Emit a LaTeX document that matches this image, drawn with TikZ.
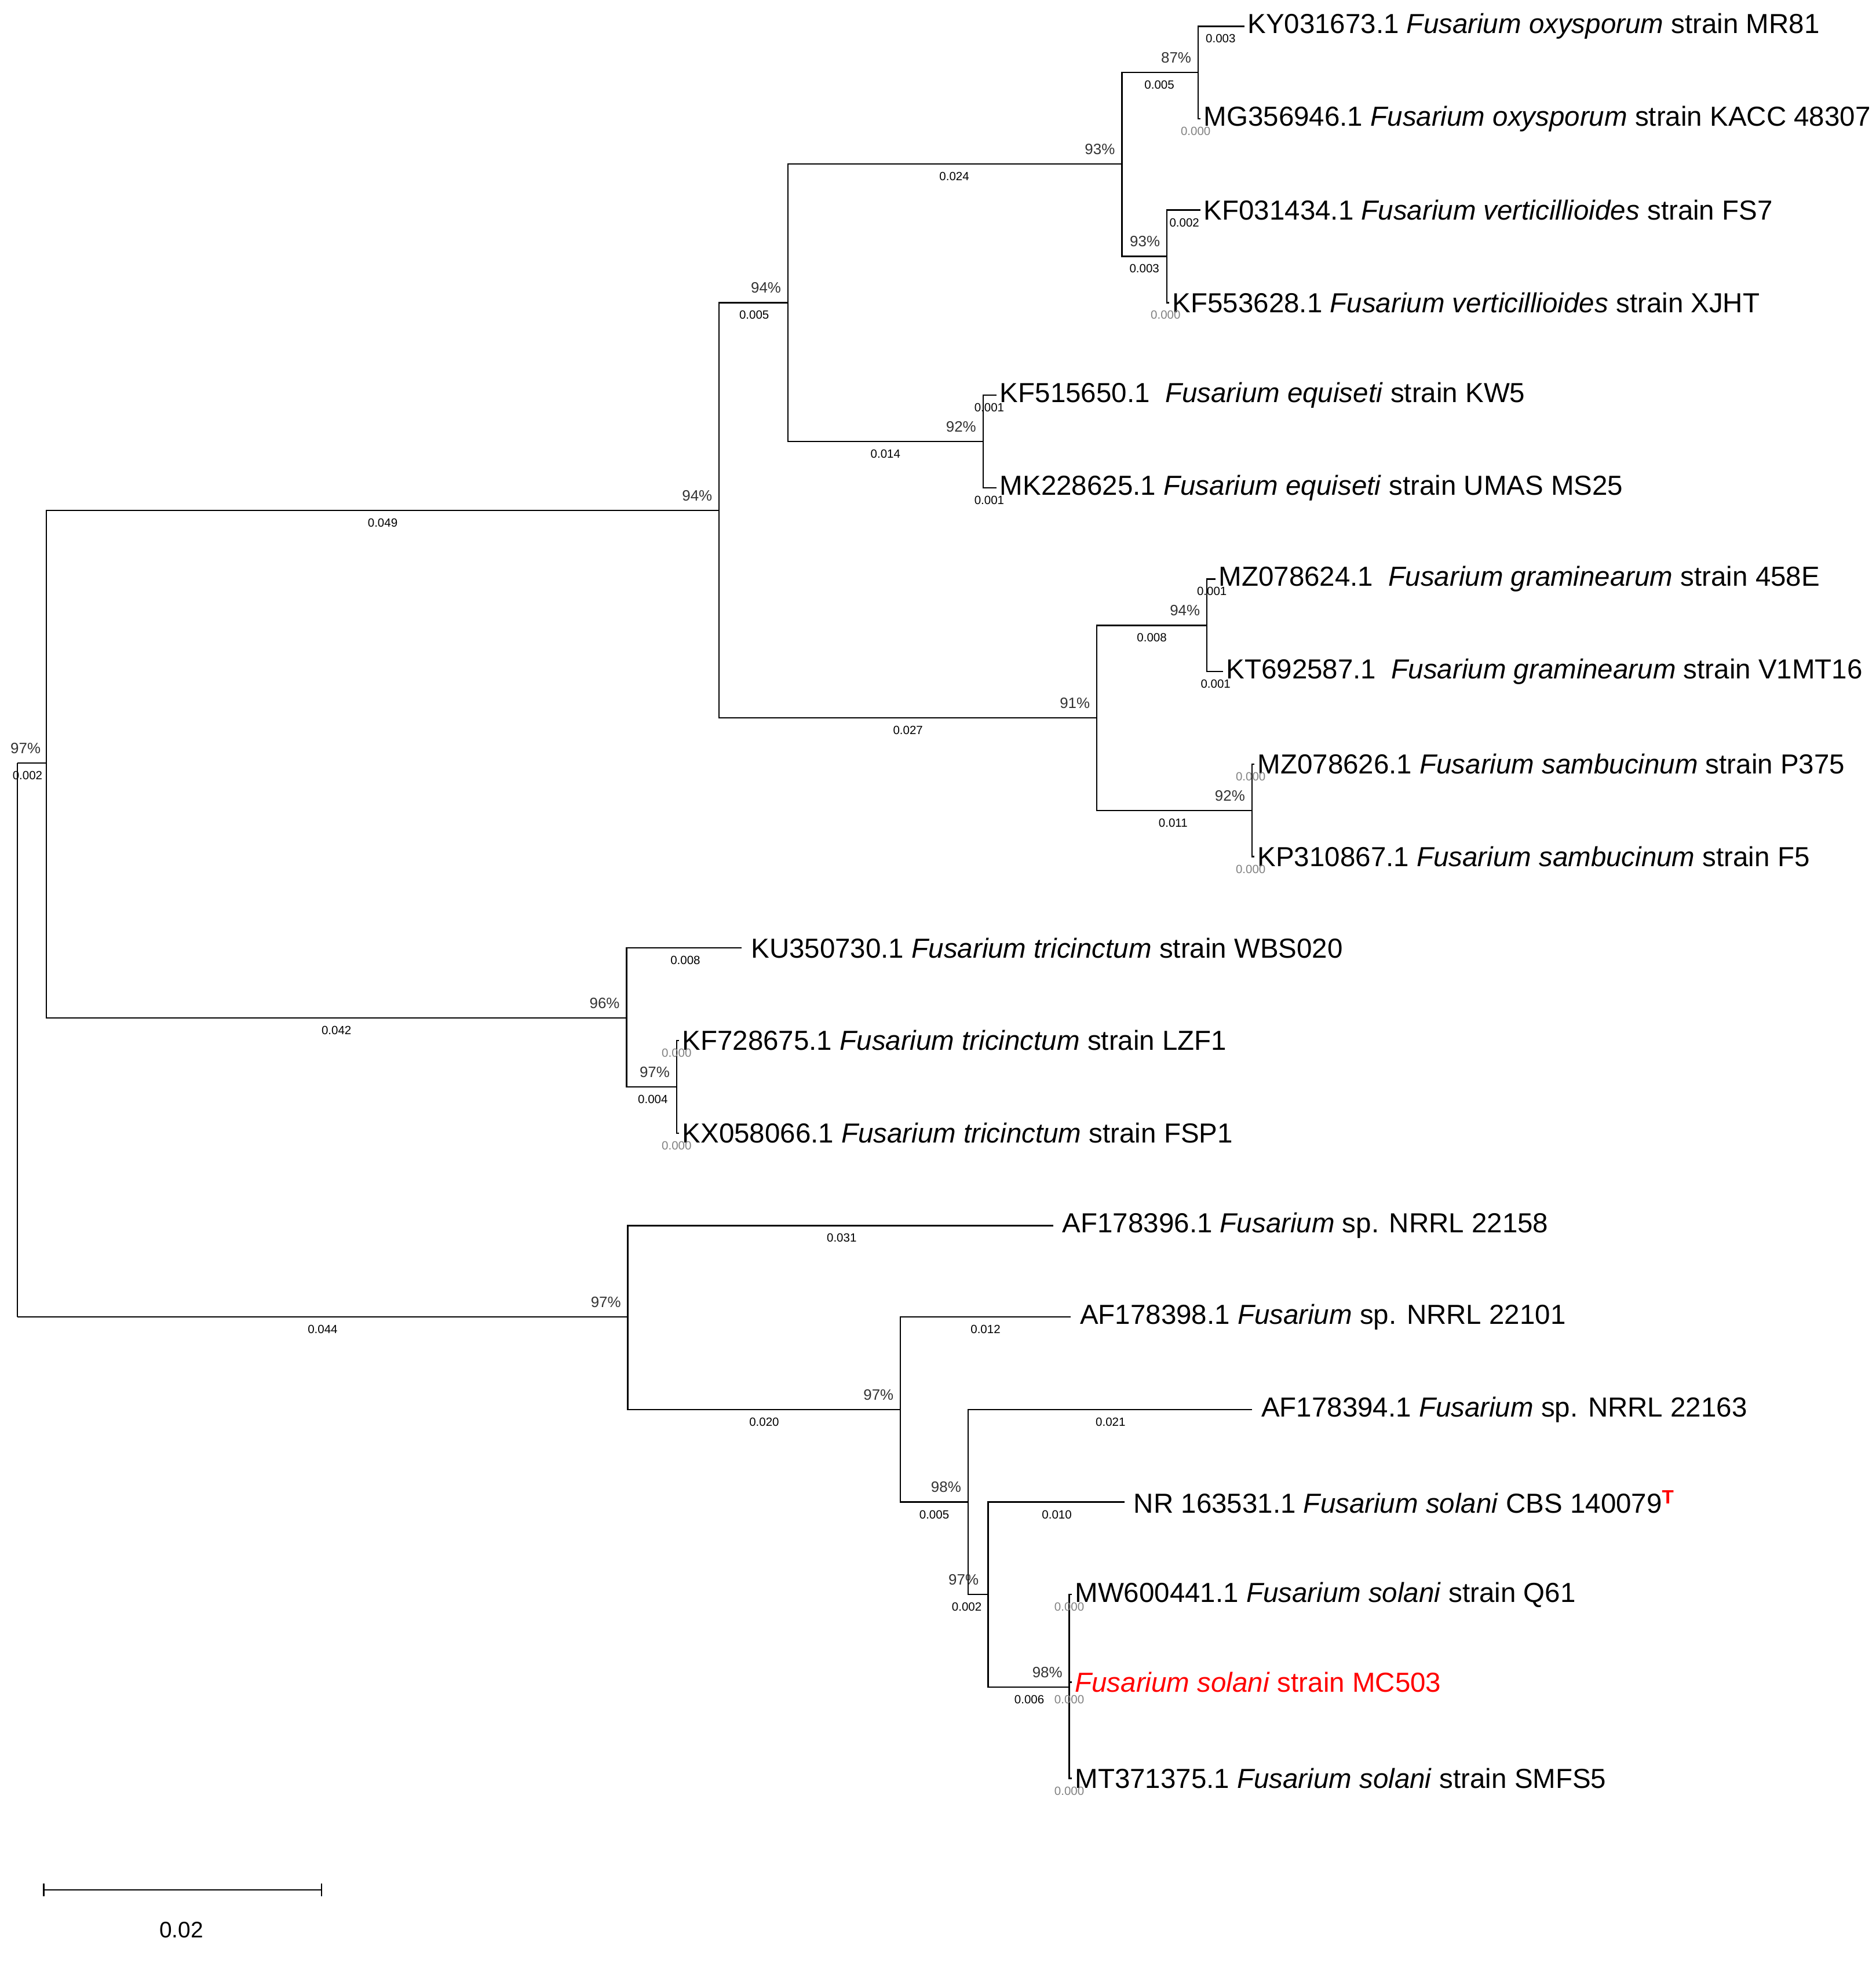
\documentclass[tikz,border=0pt]{standalone}
\usepackage{fontspec}
\setmainfont{Liberation Sans}
\begin{document}
\begin{tikzpicture}[x=1pt,y=-1pt,line width=1.1pt,
 leaf/.style={anchor=west,font=\fontsize{22}{24}\selectfont,inner sep=2pt},
 bs/.style={anchor=south east,font=\fontsize{12}{13}\selectfont,inner sep=1pt,text=black!80},
 bl/.style={anchor=north,font=\fontsize{9.5}{10}\selectfont,inner sep=2pt},
 zl/.style={bl,text=gray}]
\useasboundingbox (0,0) rectangle (1500,1576);
\coordinate (r) at (14,1053);
\coordinate (r0) at (14,610);
\coordinate (a) at (37,610);
\coordinate (b) at (575,408);
\coordinate (c) at (630,242);
\coordinate (d) at (897,131);
\coordinate (e) at (958,58);
\coordinate (f) at (933,205);
\coordinate (g) at (786,353);
\coordinate (h) at (877,574);
\coordinate (i) at (965,500);
\coordinate (j) at (1001,648);
\coordinate (k) at (501,814);
\coordinate (l) at (541,869);
\coordinate (m) at (502,1053);
\coordinate (n) at (720,1127);
\coordinate (o) at (774,1201);
\coordinate (p) at (790,1275);
\coordinate (q) at (855,1349);
\coordinate (L1) at (995,21); \coordinate (L2) at (960,95);
\coordinate (L3) at (960,168); \coordinate (L4) at (935,242);
\coordinate (L5) at (797,316); \coordinate (L6) at (797,390);
\coordinate (L7) at (972,463); \coordinate (L8) at (978,537);
\coordinate (L9) at (1003,611); \coordinate (L10) at (1003,685);
\coordinate (L11) at (593,758); \coordinate (L12) at (543,832); \coordinate (L13) at (543,906);
\coordinate (L14) at (842,980); \coordinate (L15) at (856,1053);
\coordinate (L16) at (1001,1127); \coordinate (L17) at (899,1201);
\coordinate (L18) at (857,1275); \coordinate (L19) at (857,1345); \coordinate (L20) at (857,1422);
\draw (r) -- (r0);
\foreach \p/\c in {r0/a,a/b,b/c,c/d,d/e,e/L1,e/L2,d/f,f/L3,f/L4,c/g,g/L5,g/L6,b/h,h/i,i/L7,i/L8,h/j,j/L9,j/L10,
 a/k,k/L11,k/l,l/L12,l/L13,r/m,m/L14,m/n,n/L15,n/o,o/L16,o/p,p/L17,p/q,q/L18,q/L19,q/L20}
 \draw (\p) |- (\c);
\node[leaf] at (L1) {KY031673.1 \textit{Fusarium oxysporum} strain MR81};
\node[leaf] at (L2) {MG356946.1 \textit{Fusarium oxysporum} strain KACC 48307};
\node[leaf] at (L3) {KF031434.1 \textit{Fusarium verticillioides} strain FS7};
\node[leaf] at (L4) {KF553628.1 \textit{Fusarium verticillioides} strain XJHT};
\node[leaf] at (L5) {KF515650.1 \ \textit{Fusarium equiseti} strain KW5};
\node[leaf] at (L6) {MK228625.1 \textit{Fusarium equiseti} strain UMAS MS25};
\node[leaf] at (L7) {MZ078624.1 \ \textit{Fusarium graminearum} strain 458E};
\node[leaf] at (L8) {KT692587.1 \ \textit{Fusarium graminearum} strain V1MT16};
\node[leaf] at (L9) {MZ078626.1 \textit{Fusarium sambucinum} strain P375};
\node[leaf] at (L10) {KP310867.1 \textit{Fusarium sambucinum} strain F5};
\node[leaf,xshift=5pt] at (L11) {KU350730.1 \textit{Fusarium tricinctum} strain WBS020};
\node[leaf] at (L12) {KF728675.1 \textit{Fusarium tricinctum} strain LZF1};
\node[leaf] at (L13) {KX058066.1 \textit{Fusarium tricinctum} strain FSP1};
\node[leaf,xshift=5pt] at (L14) {AF178396.1 \textit{Fusarium} sp. NRRL 22158};
\node[leaf,xshift=5pt] at (L15) {AF178398.1 \textit{Fusarium} sp. NRRL 22101};
\node[leaf,xshift=5pt] at (L16) {AF178394.1 \textit{Fusarium} sp. NRRL 22163};
\node[leaf,xshift=5pt] at (L17) {NR 163531.1 \textit{Fusarium solani} CBS 140079\textsuperscript{\textcolor{red}{\textbf{T}}}};
\node[leaf] at (L18) {MW600441.1 \textit{Fusarium solani} strain Q61};
\node[leaf,text=red] at (L19) {\textit{Fusarium solani} strain MC503};
\node[leaf] at (L20) {MT371375.1 \textit{Fusarium solani} strain SMFS5};
\node[bs] at ([xshift=-3pt,yshift=6pt]a) {97\%};
\node[bs] at ([xshift=-4pt,yshift=6pt]b) {94\%};
\node[bs] at ([xshift=-4pt,yshift=6pt]c) {94\%};
\node[bs] at ([xshift=-4pt,yshift=6pt]d) {93\%};
\node[bs] at ([xshift=-4pt,yshift=6pt]e) {87\%};
\node[bs] at ([xshift=-4pt,yshift=6pt]f) {93\%};
\node[bs] at ([xshift=-4pt,yshift=6pt]g) {92\%};
\node[bs] at ([xshift=-4pt,yshift=6pt]h) {91\%};
\node[bs] at ([xshift=-4pt,yshift=6pt]i) {94\%};
\node[bs] at ([xshift=-4pt,yshift=6pt]j) {92\%};
\node[bs] at ([xshift=-4pt,yshift=6pt]k) {96\%};
\node[bs] at ([xshift=-4pt,yshift=6pt]l) {97\%};
\node[bs] at ([xshift=-4pt,yshift=6pt]m) {97\%};
\node[bs] at ([xshift=-4pt,yshift=6pt]n) {97\%};
\node[bs] at ([xshift=-4pt,yshift=6pt]o) {98\%};
\node[bs] at ([xshift=-6pt,yshift=6pt]p) {97\%};
\node[bs] at ([xshift=-4pt,yshift=6pt]q) {98\%};
\node[bl] at (22,614) {0.002};
\node[bl] at (306,412) {0.049};
\node[bl] at (603,246) {0.005};
\node[bl] at (763,135) {0.024};
\node[bl] at (927,62) {0.005};
\node[bl] at (976,25) {0.003};
\node[zl] at (956,99) {0.000};
\node[bl] at (915,209) {0.003};
\node[bl] at (947,172) {0.002};
\node[zl] at (932,246) {0.000};
\node[bl] at (708,357) {0.014};
\node[bl] at (791,320) {0.001};
\node[bl] at (791,394) {0.001};
\node[bl] at (726,578) {0.027};
\node[bl] at (921,504) {0.008};
\node[bl] at (969,467) {0.001};
\node[bl] at (972,541) {0.001};
\node[bl] at (938,652) {0.011};
\node[zl] at (1000,615) {0.000};
\node[zl] at (1000,689) {0.000};
\node[bl] at (269,818) {0.042};
\node[bl] at (548,762) {0.008};
\node[bl] at (522,873) {0.004};
\node[zl] at (541,836) {0.000};
\node[zl] at (541,910) {0.000};
\node[bl] at (258,1057) {0.044};
\node[bl] at (673,984) {0.031};
\node[bl] at (611,1131) {0.020};
\node[bl] at (788,1057) {0.012};
\node[bl] at (747,1205) {0.005};
\node[bl] at (888,1131) {0.021};
\node[bl] at (773,1279) {0.002};
\node[bl] at (845,1205) {0.010};
\node[bl] at (823,1353) {0.006};
\node[zl] at (855,1279) {0.000};
\node[zl] at (855,1353) {0.000};
\node[zl] at (855,1426) {0.000};
\coordinate (s1) at (35,1511); \coordinate (s2) at (257,1511);
\draw (s1) -- (s2);
\draw ([yshift=-5pt]s1) -- ([yshift=5pt]s1);
\draw ([yshift=-5pt]s2) -- ([yshift=5pt]s2);
\node[font=\fontsize{18}{20}\selectfont] (sl) at (145,1543) {0.02};
\end{tikzpicture}
\end{document}
